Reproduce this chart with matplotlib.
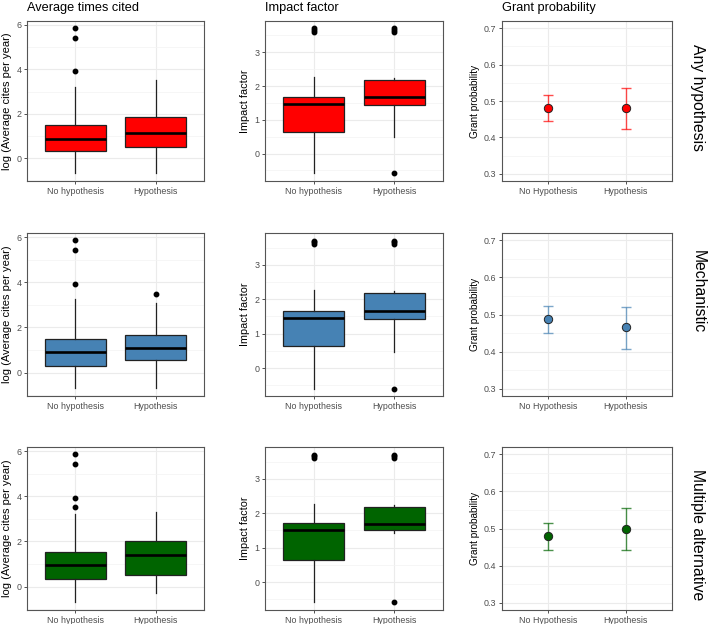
import numpy as np
import matplotlib.pyplot as plt

plt.rcParams['font.family'] = ['Liberation Sans', 'DejaVu Sans']

# data
box_groups = ["No hypothesis", "Hypothesis"]
grant_groups = ["No Hypothesis", "Hypothesis"]
row_names = ["Any hypothesis", "Mechanistic", "Multiple alternative"]
row_colors = ["#FF0000", "#4682B4", "#006400"]

# [whislo, q1, median, q3, whishi] for each row, each group
cites_stats = [
    [[-0.66, 0.30, 0.88, 1.48, 3.20], [-0.66, 0.51, 1.12, 1.87, 3.52]],
    [[-0.69, 0.31, 0.90, 1.51, 3.28], [-0.69, 0.55, 1.11, 1.66, 3.09]],
    [[-0.68, 0.33, 0.94, 1.52, 3.21], [-0.27, 0.50, 1.39, 2.00, 3.30]],
]
cites_fliers = [
    [[3.93, 5.40, 5.87], []],
    [[3.92, 5.41, 5.87], [3.50]],
    [[3.52, 3.92, 5.41, 5.87], []],
]
impact_stats = [
    [[-0.58, 0.645, 1.47, 1.67, 2.27], [0.49, 1.43, 1.68, 2.17, 2.25]],
    [[-0.60, 0.64, 1.46, 1.665, 2.27], [0.46, 1.42, 1.67, 2.17, 2.25]],
    [[-0.58, 0.644, 1.50, 1.72, 2.26], [1.44, 1.50, 1.70, 2.17, 2.24]],
]
impact_fliers = [
    [[3.60, 3.66, 3.71], [3.60, 3.66, 3.71, -0.59]],
    [[3.60, 3.66, 3.71], [3.60, 3.66, 3.71, -0.60]],
    [[3.60, 3.66, 3.71], [3.60, 3.66, 3.71, -0.58]],
]
grant_mean = [[0.481, 0.480], [0.487, 0.465], [0.479, 0.499]]
grant_low = [[0.444, 0.423], [0.451, 0.408], [0.443, 0.442]]
grant_high = [[0.517, 0.537], [0.523, 0.521], [0.515, 0.555]]

col_titles = ["Average times cited", "Impact factor", "Grant probability"]
y_labels = ["log (Average cites per year)", "Impact factor", "Grant probability"]

W, H = 709, 624
cols_px = [(27, 204), (265, 443), (502, 672)]
rows_px = [(21, 181), (233, 396), (447, 610)]
row_label_y = [98, 292, 535]


def panel(fig, r, c):
    x0, x1 = cols_px[c]
    y0, y1 = rows_px[r]
    return fig.add_axes([x0 / W, 1 - y1 / H, (x1 - x0) / W, (y1 - y0) / H])


def style(ax, ylim, majors, minors):
    ax.set_xlim(0.4, 2.6)
    ax.set_ylim(*ylim)
    ax.set_yticks(majors)
    ax.set_yticks(minors, minor=True)
    ax.set_xticks([1, 2])
    ax.grid(which='major', color='#EBEBEB', linewidth=0.8, zorder=0)
    ax.grid(which='minor', axis='y', color='#F3F3F3', linewidth=0.5, zorder=0)
    ax.set_axisbelow(True)
    for s in ax.spines.values():
        s.set_color('#555555')
        s.set_linewidth(0.8)
    ax.tick_params(which='major', length=2.5, width=0.6, color='#333333',
                   labelsize=6.4, labelcolor='#4D4D4D', pad=1.5)
    ax.tick_params(which='minor', length=0)


def draw_box(ax, stats, fliers, color):
    items = []
    for i in range(2):
        lo, q1, med, q3, hi = stats[i]
        items.append({'whislo': lo, 'q1': q1, 'med': med, 'q3': q3,
                      'whishi': hi, 'fliers': fliers[i], 'label': box_groups[i]})
    ax.bxp(items, positions=[1, 2], widths=0.76, patch_artist=True,
           showcaps=False,
           boxprops=dict(facecolor=color, edgecolor='#222222', linewidth=0.9),
           medianprops=dict(color='black', linewidth=1.9),
           whiskerprops=dict(color='#222222', linewidth=0.9),
           flierprops=dict(marker='o', markerfacecolor='black',
                           markeredgecolor='black', markersize=3.2))


fig = plt.figure(figsize=(W / 100, H / 100), dpi=100)

for r in range(3):
    color = row_colors[r]

    ax = panel(fig, r, 0)
    draw_box(ax, cites_stats[r], cites_fliers[r], color)
    style(ax, (-1.03, 6.18), [0, 2, 4, 6], [-1, 1, 3, 5])
    ax.set_xticklabels(box_groups)
    ax.set_ylabel(y_labels[0], fontsize=8.0, labelpad=3)

    ax = panel(fig, r, 1)
    draw_box(ax, impact_stats[r], impact_fliers[r], color)
    style(ax, (-0.815, 3.93), [0, 1, 2, 3], [-0.5, 0.5, 1.5, 2.5, 3.5])
    ax.set_xticklabels(box_groups)
    ax.set_ylabel(y_labels[1], fontsize=7.8, labelpad=3)

    ax = panel(fig, r, 2)
    x = np.array([1, 2])
    mean = np.array(grant_mean[r])
    err = [mean - np.array(grant_low[r]), np.array(grant_high[r]) - mean]
    ax.errorbar(x, mean, yerr=err, fmt='none', ecolor=color, alpha=0.7,
                elinewidth=1.0, capsize=3.5, capthick=1.0, zorder=3)
    ax.plot(x, mean, 'o', markersize=6, markerfacecolor=color,
            markeredgecolor='#222222', markeredgewidth=0.7, zorder=4)
    style(ax, (0.28, 0.72), [0.3, 0.4, 0.5, 0.6, 0.7],
          [0.35, 0.45, 0.55, 0.65])
    ax.set_yticklabels(['0.3', '0.4', '0.5', '0.6', '0.7'])
    ax.set_xticklabels(grant_groups)
    ax.set_ylabel(y_labels[2], fontsize=7.2, labelpad=3)

    fig.text(698 / W, 1 - row_label_y[r] / H, row_names[r], rotation=-90,
             ha='center', va='center', fontsize=11.3, color='black')

for c in range(3):
    fig.text(cols_px[c][0] / W, 1 - 8 / H, col_titles[c], ha='left',
             va='center', fontsize=9.2, color='black')

fig.savefig('out.png', dpi=100)
